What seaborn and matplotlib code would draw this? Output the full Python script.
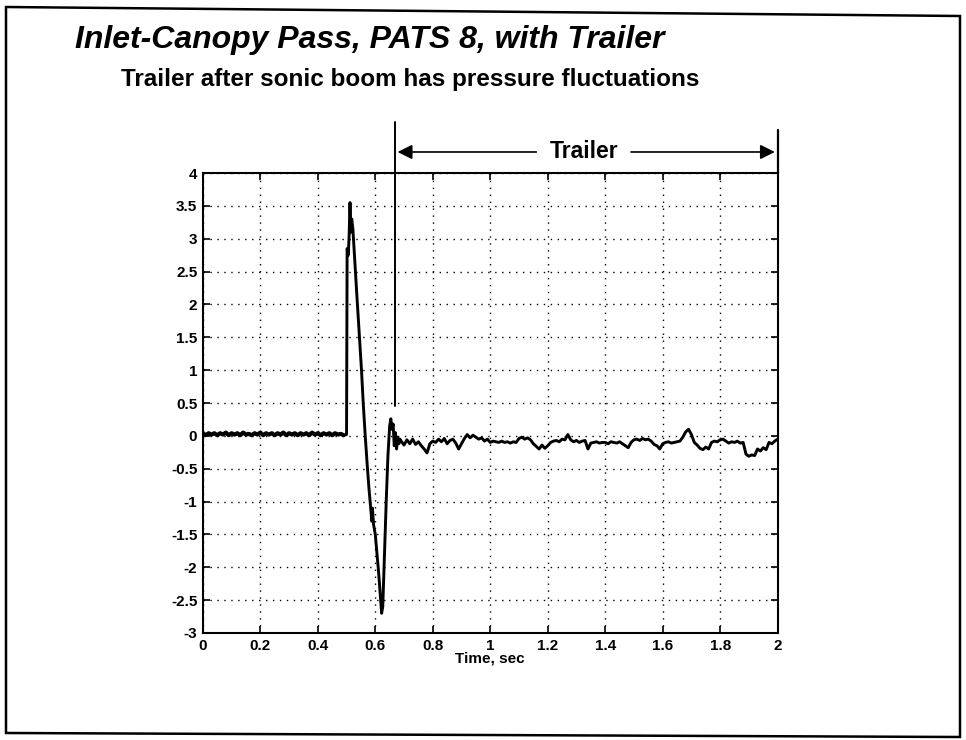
import numpy as np
import pandas as pd
import seaborn as sns
import matplotlib.pyplot as plt
from matplotlib.patches import Polygon

# -----------------------------------------------------
# DATA
# -----------------------------------------------------
# quiet part before the boom
pre_t = [0.00, 0.01, 0.02, 0.03, 0.04, 0.05, 0.06, 0.07, 0.08, 0.09,
         0.10, 0.11, 0.12, 0.13, 0.14, 0.15, 0.16, 0.17, 0.18, 0.19,
         0.20, 0.21, 0.22, 0.23, 0.24, 0.25, 0.26, 0.27, 0.28, 0.29,
         0.30, 0.31, 0.32, 0.33, 0.34, 0.35, 0.36, 0.37, 0.38, 0.39,
         0.40, 0.41, 0.42, 0.43, 0.44, 0.45, 0.46, 0.47, 0.48, 0.49]
pre_p = [0.04, 0.01, 0.04, 0.02, 0.04, 0.01, 0.04, 0.02, 0.05, 0.01,
         0.04, 0.02, 0.04, 0.01, 0.05, 0.02, 0.03, 0.01, 0.04, 0.02,
         0.05, 0.01, 0.04, 0.02, 0.04, 0.01, 0.04, 0.02, 0.05, 0.01,
         0.04, 0.02, 0.04, 0.01, 0.04, 0.02, 0.04, 0.01, 0.05, 0.02,
         0.04, 0.01, 0.04, 0.02, 0.04, 0.01, 0.04, 0.02, 0.03, 0.01]

# N-wave of the sonic boom
boom_t = [0.500, 0.502, 0.506, 0.509, 0.512, 0.515, 0.518, 0.522, 0.528, 0.535,
          0.545, 0.552, 0.558, 0.565, 0.572, 0.578, 0.583, 0.588, 0.590, 0.594,
          0.600, 0.606, 0.612, 0.618, 0.622, 0.626, 0.632, 0.638, 0.644, 0.650,
          0.654, 0.658, 0.662, 0.666, 0.670, 0.674, 0.678, 0.682, 0.686]
boom_p = [0.02, 2.85, 2.75, 3.05, 3.55, 3.10, 3.30, 3.15, 2.70, 2.20,
          1.50, 1.00, 0.50, 0.00, -0.45, -0.80, -1.05, -1.30, -1.10, -1.35,
          -1.50, -1.80, -2.10, -2.45, -2.70, -2.60, -1.80, -1.00, -0.30, 0.15,
          0.26, 0.10, 0.18, -0.15, 0.05, -0.20, -0.02, -0.12, -0.05]

# trailer after the boom
trail_t = [0.69, 0.70, 0.71, 0.72, 0.73, 0.74, 0.75, 0.76, 0.77, 0.78,
           0.79, 0.80, 0.81, 0.82, 0.83, 0.84, 0.85, 0.86, 0.87, 0.88,
           0.89, 0.90, 0.91, 0.92, 0.93, 0.94, 0.95, 0.96, 0.97, 0.98,
           0.99, 1.00, 1.01, 1.02, 1.03, 1.04, 1.05, 1.06, 1.07, 1.08,
           1.09, 1.10, 1.11, 1.12, 1.13, 1.14, 1.15, 1.16, 1.17, 1.18,
           1.19, 1.20, 1.21, 1.22, 1.23, 1.24, 1.25, 1.26, 1.27, 1.28,
           1.29, 1.30, 1.31, 1.32, 1.33, 1.34, 1.35, 1.36, 1.37, 1.38,
           1.39, 1.40, 1.41, 1.42, 1.43, 1.44, 1.45, 1.46, 1.47, 1.48,
           1.49, 1.50, 1.51, 1.52, 1.53, 1.54, 1.55, 1.56, 1.57, 1.58,
           1.59, 1.60, 1.61, 1.62, 1.63, 1.64, 1.65, 1.66, 1.67, 1.68,
           1.69, 1.70, 1.71, 1.72, 1.73, 1.74, 1.75, 1.76, 1.77, 1.78,
           1.79, 1.80, 1.81, 1.82, 1.83, 1.84, 1.85, 1.86, 1.87, 1.88,
           1.89, 1.90, 1.91, 1.92, 1.93, 1.94, 1.95, 1.96, 1.97, 1.98,
           1.99, 2.00]
trail_p = [-0.08, -0.14, -0.06, -0.12, -0.05, -0.13, -0.09, -0.15, -0.20, -0.26,
           -0.12, -0.08, -0.10, -0.05, -0.09, -0.04, -0.12, -0.07, -0.05, -0.11,
           -0.20, -0.12, -0.04, 0.02, -0.03, 0.01, -0.02, -0.05, -0.03, -0.08,
           -0.05, -0.10, -0.08, -0.09, -0.10, -0.08, -0.10, -0.09, -0.11, -0.09,
           -0.10, -0.04, -0.02, -0.05, -0.03, -0.06, -0.12, -0.16, -0.20, -0.14,
           -0.19, -0.15, -0.10, -0.08, -0.07, -0.09, -0.05, -0.06, 0.02, -0.06,
           -0.09, -0.07, -0.10, -0.08, -0.07, -0.20, -0.11, -0.10, -0.09, -0.11,
           -0.10, -0.10, -0.12, -0.09, -0.10, -0.11, -0.09, -0.12, -0.15, -0.18,
           -0.10, -0.06, -0.05, -0.07, -0.04, -0.06, -0.05, -0.08, -0.13, -0.15,
           -0.20, -0.12, -0.10, -0.09, -0.11, -0.10, -0.09, -0.08, -0.02, 0.06,
           0.10, 0.02, -0.10, -0.14, -0.19, -0.21, -0.17, -0.20, -0.10, -0.08,
           -0.09, -0.06, -0.05, -0.08, -0.11, -0.09, -0.10, -0.08, -0.11, -0.10,
           -0.28, -0.31, -0.29, -0.30, -0.20, -0.23, -0.18, -0.21, -0.10, -0.12,
           -0.08, -0.05]

x_ticks = [0, 0.2, 0.4, 0.6, 0.8, 1, 1.2, 1.4, 1.6, 1.8, 2]
x_labels = ["0", "0.2", "0.4", "0.6", "0.8", "1", "1.2", "1.4", "1.6", "1.8", "2"]
y_ticks = [-3, -2.5, -2, -1.5, -1, -0.5, 0, 0.5, 1, 1.5, 2, 2.5, 3, 3.5, 4]
y_labels = ["-3", "-2.5", "-2", "-1.5", "-1", "-0.5", "0", "0.5", "1",
            "1.5", "2", "2.5", "3", "3.5", "4"]

trailer_start = 0.668
trailer_end = 2.0

df_pre = pd.DataFrame({"t": pre_t, "p": pre_p})
df = pd.DataFrame({"t": pre_t[-1:] + boom_t + trail_t,
                   "p": pre_p[-1:] + boom_p + trail_p})

# -----------------------------------------------------
# STYLE
# -----------------------------------------------------
sns.set_style("ticks")
plt.rcParams["font.family"] = ["Liberation Sans", "DejaVu Sans"]
plt.rcParams["axes.unicode_minus"] = False
plt.rcParams["text.color"] = "black"
plt.rcParams["axes.labelcolor"] = "black"

fig = plt.figure(figsize=(9.66, 7.4), dpi=100)
ax = fig.add_axes([0.210, 0.1446, 0.595, 0.6216])

# quiet part drawn as a thick noisy band
sns.lineplot(data=df_pre, x="t", y="p", ax=ax, color="black", linewidth=3.0,
             estimator=None, sort=False)
sns.lineplot(data=df, x="t", y="p", ax=ax, color="black", linewidth=2.1,
             estimator=None, sort=False)

ax.set_xlim(0, 2)
ax.set_ylim(-3, 4)
ax.set_xticks(x_ticks)
ax.set_xticklabels(x_labels)
ax.set_yticks(y_ticks)
ax.set_yticklabels(y_labels)
ax.tick_params(direction="in", length=5, width=1.2, top=True, right=True,
               labelsize=11, colors="black", pad=4)
for lab in ax.get_xticklabels() + ax.get_yticklabels():
    lab.set_fontweight("bold")
ax.grid(True, color="black", linestyle=(0, (1, 4)), linewidth=1.0)
for s in ax.spines.values():
    s.set_linewidth(1.5)
    s.set_color("black")
ax.set_xlabel("Time, sec", fontsize=11, fontweight="bold", labelpad=-1)
ax.set_ylabel("")

# -----------------------------------------------------
# TRAILER MARKER
# -----------------------------------------------------
ax.plot([trailer_start, trailer_start], [0.45, 4.78], color="black",
        linewidth=1.4, clip_on=False)
ax.plot([trailer_end, trailer_end], [4, 4.66], color="black",
        linewidth=1.6, clip_on=False)
arrow_y = 4.32
ax.annotate("", xy=(trailer_start, arrow_y), xytext=(1.17, arrow_y),
            arrowprops=dict(arrowstyle="-|>", mutation_scale=22, color="black", lw=1.2),
            annotation_clip=False)
ax.annotate("", xy=(trailer_end, arrow_y), xytext=(1.48, arrow_y),
            arrowprops=dict(arrowstyle="-|>", mutation_scale=22, color="black", lw=1.2),
            annotation_clip=False)
ax.text(1.325, arrow_y, "Trailer", ha="center", va="center", fontsize=16.5,
        fontweight="bold", clip_on=False)

# -----------------------------------------------------
# TITLES AND FRAME
# -----------------------------------------------------
fig.text(0.078, 0.946, "Inlet-Canopy Pass, PATS 8, with Trailer", fontsize=23,
         fontweight="bold", fontstyle="italic", va="center", ha="left")
fig.text(0.125, 0.893, "Trailer after sonic boom has pressure fluctuations",
         fontsize=17.5, fontweight="bold", va="center", ha="left")
frame = [(6 / 966, 1 - 7 / 740), (960 / 966, 1 - 16 / 740),
         (960 / 966, 1 - 737 / 740), (6 / 966, 1 - 733 / 740)]
fig.add_artist(Polygon(frame, closed=True, transform=fig.transFigure,
                       fill=False, linewidth=1.8, edgecolor="black"))

fig.savefig("out.png", dpi=100, facecolor="white")
